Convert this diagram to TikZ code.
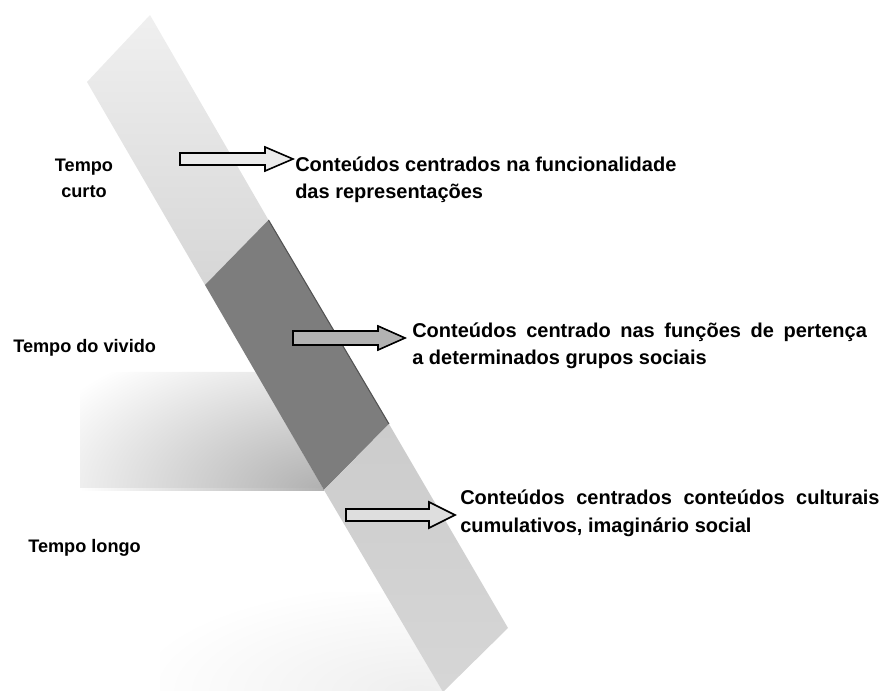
\documentclass[tikz,border=0pt]{standalone}
\usepackage{fontspec}
\setmainfont{Liberation Sans}
\definecolor{bandtop}{gray}{0.94}
\definecolor{bandmid}{gray}{0.84}
\definecolor{darkband}{gray}{0.49}
\definecolor{darkedge}{gray}{0.32}
\definecolor{lowtop}{gray}{0.80}
\definecolor{lowbot}{gray}{0.84}
\definecolor{arrowA}{gray}{0.92}
\definecolor{arrowB}{gray}{0.70}
\definecolor{arrowC}{gray}{0.87}
\begin{document}
\begin{tikzpicture}[x=0.75pt,y=-0.75pt,
  lab/.style={font=\bfseries\fontsize{13.6pt}{19.5pt}\selectfont, inner sep=0pt},
  txt/.style={font=\bfseries\fontsize{15pt}{20.6pt}\selectfont, inner sep=0pt, anchor=base west},
  barrow/.style={draw=black, line width=1.2pt, line join=miter}]
\useasboundingbox (0,0) rectangle (883,691);

% faint lower area
\begin{scope}
  \clip (160,592) -- (385,592) -- (443,692) -- (160,692) -- cycle;
  \shade[inner color=gray!13, outer color=white] (420,692) ellipse [x radius=290, y radius=110];
\end{scope}

% gradient region (Tempo do vivido / longo)
\begin{scope}
  \clip (80,372) -- (256,372) -- (324,490) -- (80,490) -- cycle;
  \shade[inner color=gray!62, outer color=white] (324,490) ellipse [x radius=310, y radius=165];
\end{scope}
\shade[left color=white, right color=gray!60] (80,489) rectangle (324,491);

% band: upper light part
\shade[top color=bandtop, bottom color=bandmid] (87,82) -- (150,15) -- (268.5,220) -- (205,285) -- cycle;
% band: dark middle part
\fill[darkband] (205,285) -- (268.5,220) -- (389,424) -- (324,490) -- cycle;
\draw[darkedge, line width=0.8pt] (268.5,220) -- (389,424);
% band: lower light part
\shade[top color=lowtop, bottom color=lowbot] (324,490) -- (389,424) -- (508,628) -- (443,692) -- cycle;

% block arrows
\draw[barrow, fill=arrowA] (180,153) -- (265,153) -- (265,147) -- (293,159) -- (265,171) -- (265,165) -- (180,165) -- cycle;
\draw[barrow, fill=arrowB] (293,331) -- (378,331) -- (378,326) -- (405,338) -- (378,350) -- (378,345) -- (293,345) -- cycle;
\draw[barrow, fill=arrowC] (346,509) -- (429,509) -- (429,502) -- (455,515) -- (429,528) -- (429,521) -- (346,521) -- cycle;

% left labels
\node[lab, anchor=base] (curto) at (84,172) {\parbox[t]{60pt}{\centering Tempo\\curto}};
\node[lab, anchor=base west] (vivido) at (13,353) {Tempo do vivido};
\node[lab, anchor=base west] (longo) at (28,553) {Tempo longo};

% right texts
\node[txt] (t1) at (295,171.5) {\parbox[t]{300pt}{Conteúdos centrados na funcionalidade\\das representações}};
\node[txt] (t2) at (412,337.5) {\parbox[t]{341pt}{\makebox[341pt][s]{Conteúdos centrado nas funções de pertença}\\a determinados grupos sociais}};
\node[txt] (t3) at (460,505) {\parbox[t]{314.5pt}{\makebox[314.5pt][s]{Conteúdos centrados conteúdos culturais}\\cumulativos, imaginário social}};
\end{tikzpicture}
\end{document}
